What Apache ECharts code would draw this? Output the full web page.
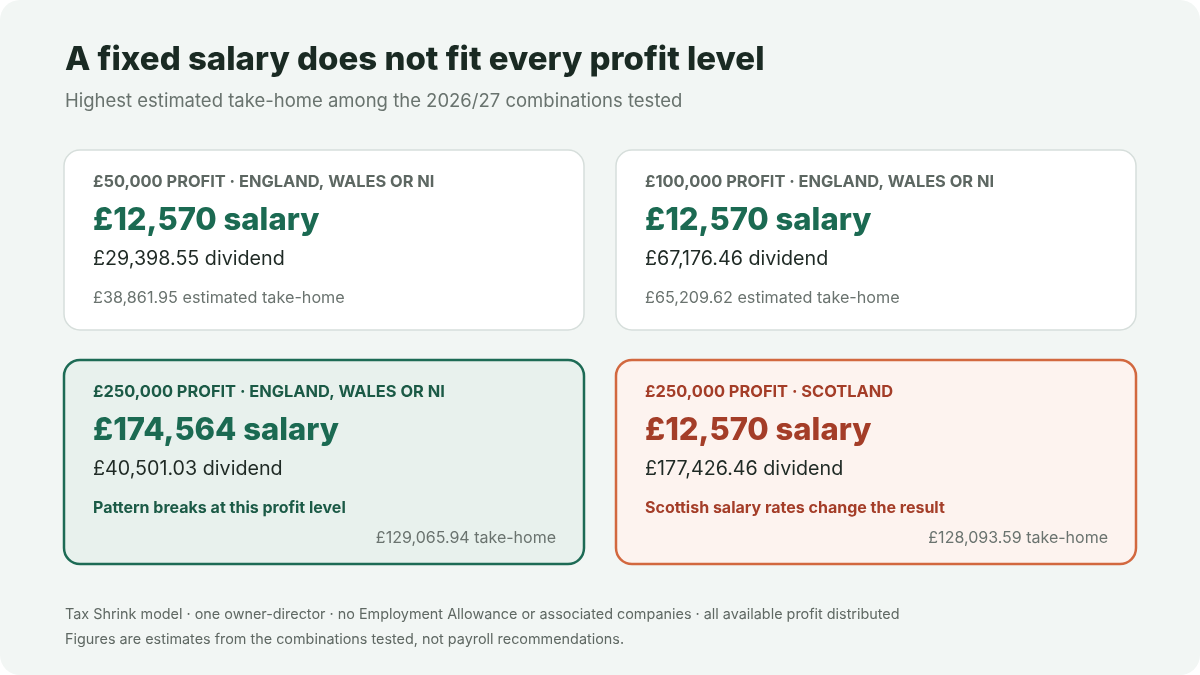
<!DOCTYPE html>
<html>
<head>
<meta charset="utf-8">
<script src="https://cdn.jsdelivr.net/npm/echarts@6/dist/echarts.min.js"></script>
<style>
  html, body { margin: 0; padding: 0; background: #ffffff; }
  #chart { width: 1200px; height: 675px; }
</style>
</head>
<body>
<div id="chart"></div>
<script>
// card data
var labels = ['£50,000 PROFIT · ENGLAND, WALES OR NI', '£100,000 PROFIT · ENGLAND, WALES OR NI',
              '£250,000 PROFIT · ENGLAND, WALES OR NI', '£250,000 PROFIT · SCOTLAND'];
var salaries = ['£12,570 salary', '£12,570 salary', '£174,564 salary', '£12,570 salary'];
var dividends = ['£29,398.55 dividend', '£67,176.46 dividend', '£40,501.03 dividend', '£177,426.46 dividend'];
var notes = ['', '', 'Pattern breaks at this profit level', 'Scottish salary rates change the result'];
var takeHomes = ['£38,861.95 estimated take-home', '£65,209.62 estimated take-home',
                 '£129,065.94 take-home', '£128,093.59 take-home'];
var themes = ['plain', 'plain', 'green', 'orange'];

var FONT = 'Inter, "Noto Sans", sans-serif';
var palette = {
  plain:  { bg: '#ffffff', border: '#d6dedb', label: '#5d6762', main: '#1b6a52', note: '#1b6a52' },
  green:  { bg: '#e8f1ed', border: '#1d6b55', label: '#1b5a46', main: '#1b6a52', note: '#1b5a46' },
  orange: { bg: '#fdf3ef', border: '#d2683f', label: '#a43d28', main: '#a43d28', note: '#a43d28' }
};

var boxes = [[64, 150, 520, 180], [616, 150, 520, 180], [64, 360, 520, 204], [616, 360, 520, 204]];

function txt(x, y, s, size, weight, color, align) {
  return { type: 'text', x: x, y: y, style: { text: s, font: weight + ' ' + size + 'px ' + FONT,
    fill: color, textAlign: align || 'left', textVerticalAlign: 'middle' } };
}

var els = [];
els.push({ type: 'rect', shape: { x: 0, y: 0, width: 1200, height: 675, r: 20 }, style: { fill: '#f2f6f4' } });
els.push(txt(65, 60, 'A fixed salary does not fit every profit level', 33, '800', '#1a2a23'));
els.push(txt(65, 101, 'Highest estimated take-home among the 2026/27 combinations tested', 18.5, 'normal', '#69736e'));

for (var i = 0; i < labels.length; i++) {
  var b = boxes[i], p = palette[themes[i]], x = b[0] + 29, y = b[1];
  els.push({ type: 'rect', shape: { x: b[0], y: b[1], width: b[2], height: b[3], r: 16 },
    style: { fill: p.bg, stroke: p.border, lineWidth: themes[i] === 'plain' ? 1.5 : 2.5 } });
  els.push(txt(x, y + 32, labels[i], 16.4, 'bold', p.label));
  els.push(txt(x, y + 71, salaries[i], 31, '800', p.main));
  els.push(txt(x, y + 109, dividends[i], 19.7, 'normal', '#1f2a25'));
  if (notes[i]) {
    els.push(txt(x, y + 148, notes[i], 16, 'bold', p.note));
    els.push(txt(b[0] + b[2] - 28, y + 178, takeHomes[i], 16, 'normal', '#6a736f', 'right'));
  } else {
    els.push(txt(x, y + 148, takeHomes[i], 16.2, 'normal', '#6a736f'));
  }
}

els.push(txt(65, 615, 'Tax Shrink model · one owner-director · no Employment Allowance or associated companies · all available profit distributed', 14.4, 'normal', '#5f6863'));
els.push(txt(65, 640, 'Figures are estimates from the combinations tested, not payroll recommendations.', 14.4, 'normal', '#5f6863'));

var chart = echarts.init(document.getElementById('chart'));
chart.setOption({ animation: false, graphic: { elements: els } });
</script>
</body>
</html>
